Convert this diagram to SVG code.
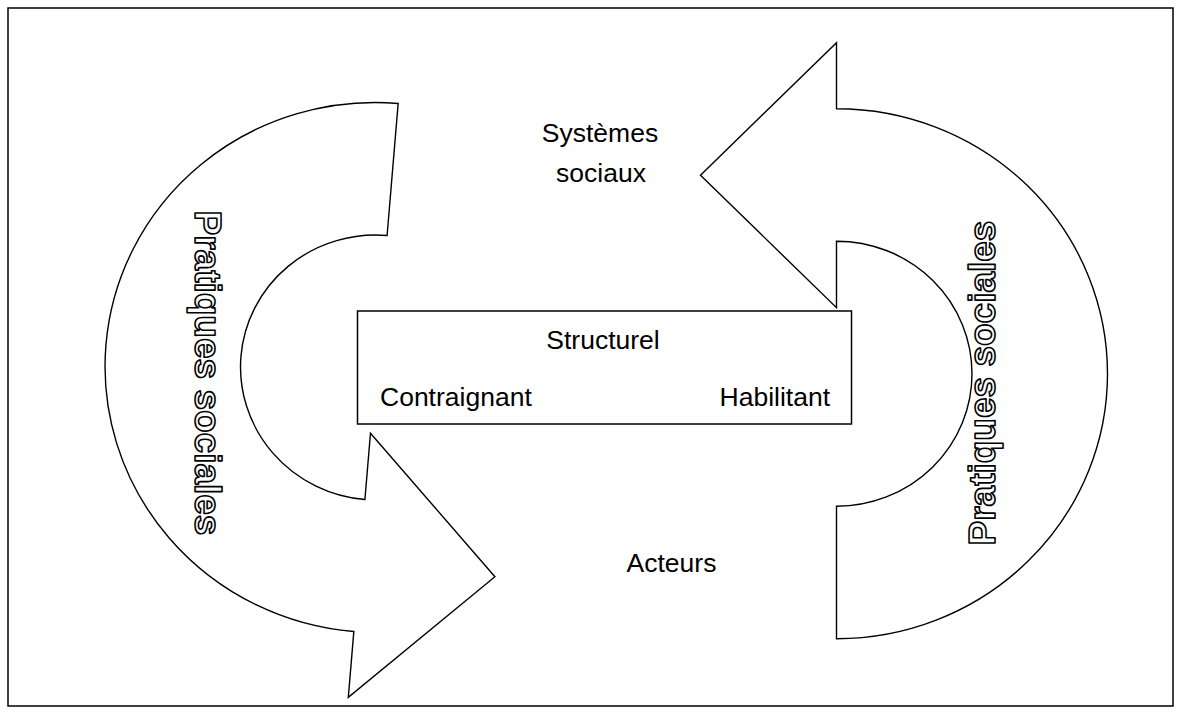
<svg xmlns="http://www.w3.org/2000/svg" xmlns:xlink="http://www.w3.org/1999/xlink" width="1181" height="712" viewBox="0 0 1181 712">
  <style>
    .frame { fill: #ffffff; stroke: #000000; stroke-width: 1.5; }
    .arrow { fill: #ffffff; stroke: #000000; stroke-width: 1.4; stroke-linejoin: miter; }
    .box { fill: #ffffff; stroke: #000000; stroke-width: 1.5; }
    .lbl { font-family: "Liberation Sans", Arial, sans-serif; font-size: 26.5px; fill: #000000; }
    .outline { font-family: "Liberation Sans", Arial, sans-serif; font-weight: 700; font-size: 37px; fill: #ffffff; stroke: #000000; stroke-width: 1.6; stroke-linejoin: round; }
  </style>
  <defs>
    <path id="circArrow" d="M 0 -265 A 271 265 0 0 0 0 265 L 0 331 L 136 198.5 L 0 66 L 0 132.5 A 135.5 132.5 0 0 1 0 -132.5 Z"/>
  </defs>
  <rect class="frame" x="8" y="8" width="1165" height="698"/>
  <g id="connectors">
    <g id="arrow-left">
      <use xlink:href="#circArrow" href="#circArrow" class="arrow" transform="translate(376,367.5) rotate(4.8)"/>
    </g>
    <g id="arrow-right">
      <use xlink:href="#circArrow" href="#circArrow" class="arrow" transform="translate(836.5,373.7) rotate(180)"/>
    </g>
  </g>
  <g id="label-pratiques-left">
    <text class="outline" font-weight="bold" transform="translate(195,210.5) rotate(90)">Pratiques sociales</text>
  </g>
  <g id="label-pratiques-right">
    <text class="outline" font-weight="bold" transform="translate(994.5,545.5) rotate(-90)">Pratiques sociales</text>
  </g>
  <g id="node-systemes">
    <text class="lbl" x="600" y="141.5" text-anchor="middle">Systèmes</text>
    <text class="lbl" x="601" y="181.5" text-anchor="middle">sociaux</text>
  </g>
  <g id="node-structurel">
    <rect class="box" x="357.5" y="311" width="494" height="113"/>
    <text class="lbl" x="603" y="349" text-anchor="middle">Structurel</text>
    <text class="lbl" x="380" y="406">Contraignant</text>
    <text class="lbl" x="830" y="406" text-anchor="end">Habilitant</text>
  </g>
  <g id="node-acteurs">
    <text class="lbl" x="671.5" y="571.5" text-anchor="middle">Acteurs</text>
  </g>
</svg>
